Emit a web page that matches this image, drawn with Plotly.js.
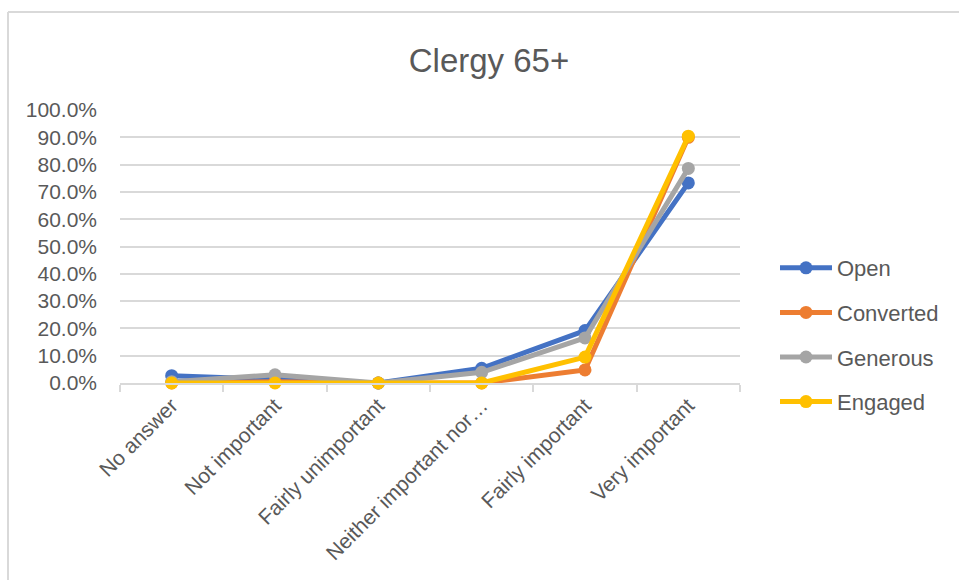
<!DOCTYPE html>
<html>
<head>
<meta charset="utf-8">
<script src="https://cdn.plot.ly/plotly-3.0.1.min.js"></script>
<style>
html,body{margin:0;padding:0;background:#fff;}
#chart{width:959px;height:580px;}
</style>
</head>
<body>
<div id="chart"></div>
<script>
var categories = ["No answer", "Not important", "Fairly unimportant", "Neither important nor\u2026", "Fairly important", "Very important"];
var openVals = [0.027, 0.015, 0.0, 0.054, 0.192, 0.733];
var convertedVals = [0.0, 0.005, 0.0, 0.0, 0.048, 0.900];
var generousVals = [0.005, 0.030, 0.0, 0.039, 0.165, 0.786];
var engagedVals = [0.0, 0.0, 0.0, 0.0, 0.095, 0.904];
var seriesNames = ["Open", "Converted", "Generous", "Engaged"];
var seriesColors = ["#4472C4", "#ED7D31", "#A5A5A5", "#FFC000"];
var seriesVals = [openVals, convertedVals, generousVals, engagedVals];

var font = "Liberation Sans, Arial, sans-serif";
var traces = seriesVals.map(function(v, i){
  return {
    type: "scatter", mode: "lines+markers",
    x: categories, y: v, name: seriesNames[i], legendgroup: "g" + i,
    line: {color: seriesColors[i], width: 5},
    marker: {color: seriesColors[i], size: 13},
    cliponaxis: false
  };
});

var layout = {
  width: 959, height: 580,
  paper_bgcolor: "#fff", plot_bgcolor: "#fff",
  margin: {l: 120, r: 219, t: 110, b: 197},
  font: {family: font, color: "#595959"},
  title: {text: "Clergy 65+", font: {family: font, size: 33, color: "#595959"}, x: 489/959, xref: "container", xanchor: "center", y: 1 - 60/580, yanchor: "middle"},
  showlegend: true,
  legend: {x: 775/959, xref: "container", y: 1 - 247/580, yref: "container", yanchor: "top", xanchor: "left",
           itemwidth: 52,
           font: {family: font, size: 22, color: "#595959"}, tracegroupgap: 13, bgcolor: "rgba(0,0,0,0)"},
  xaxis: {type: "category", range: [-0.5, 5.5], showgrid: false, showline: true, linecolor: "#d9d9d9", linewidth: 2,
          ticks: "outside", tickson: "boundaries", ticklen: 7, tickcolor: "#d9d9d9", tickwidth: 2,
          tickangle: -45, tickfont: {family: font, size: 21, color: "#595959"}, zeroline: false, fixedrange: true},
  yaxis: {range: [0, 1.0], dtick: 0.1, tick0: 0, tickformat: ".1%", showgrid: true, gridcolor: "#d9d9d9", gridwidth: 2,
          zeroline: false, showline: false, ticks: "", ticklabelstandoff: 22,
          tickfont: {family: font, size: 21, color: "#595959"}, fixedrange: true},
  shapes: [{type: "line", xref: "paper", yref: "paper", x0: (8-120)/620, x1: (8-120)/620, y0: -0.8, y1: (383-12)/273, line: {color: "#d9d9d9", width: 2}},
           {type: "line", xref: "paper", yref: "paper", x0: (8-120)/620, x1: 2, y0: (383-12)/273, y1: (383-12)/273, line: {color: "#d9d9d9", width: 2}}]
};
Plotly.newPlot("chart", traces, layout, {staticPlot: true, displayModeBar: false});
</script>
</body>
</html>
